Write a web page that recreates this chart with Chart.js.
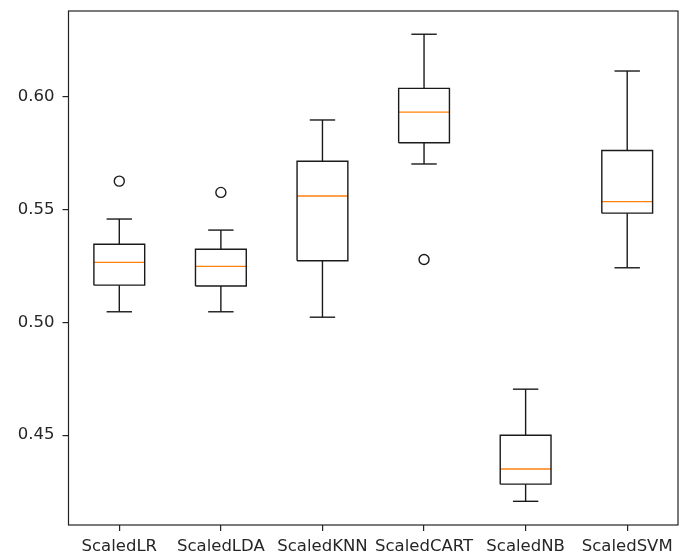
<!DOCTYPE html>
<html>
<head>
<meta charset="utf-8">
<script src="https://cdn.jsdelivr.net/npm/chart.js@4.4.1/dist/chart.umd.min.js"></script>
<style>
  html, body { margin: 0; padding: 0; background: #ffffff; }
  #c { display: block; }
</style>
</head>
<body>
<canvas id="c" width="680" height="557"></canvas>
<script>
// ---- data ----
const categories  = ['ScaledLR', 'ScaledLDA', 'ScaledKNN', 'ScaledCART', 'ScaledNB', 'ScaledSVM'];
const whiskerLow  = [0.5047, 0.5047, 0.5023, 0.5702, 0.4207, 0.5242];
const q1          = [0.5165, 0.5161, 0.5273, 0.5796, 0.4283, 0.5484];
const median      = [0.5266, 0.5248, 0.5560, 0.5932, 0.4350, 0.5535];
const q3          = [0.5346, 0.5324, 0.5714, 0.6037, 0.4500, 0.5762];
const whiskerHigh = [0.5458, 0.5409, 0.5897, 0.6277, 0.4704, 0.6114];
const outliers    = [[0.5626], [0.5576], [], [0.5279], [], []];
const yTicks      = [0.45, 0.50, 0.55, 0.60];
const yMin = 0.4102, yMax = 0.6380;

// ---- styling ----
const HALF_BOX = 0.25;   // matplotlib default box width 0.5
const HALF_CAP = 0.125;  // caps are half the box width
const LW = 1.4;
const INK = '#1a1a1a';
const MEDIAN_COLOR = '#ff7f0e';
const TEXT = '#262626';
const FONT = { family: 'DejaVu Sans', size: 16.5 };

function seg(points, color, extra) {
  return Object.assign({
    type: 'line',
    data: points,
    borderColor: color,
    backgroundColor: 'transparent',
    borderWidth: LW,
    pointRadius: 0,
    pointHoverRadius: 0,
    fill: false,
    tension: 0,
    clip: false,
    borderCapStyle: 'butt',
    borderJoinStyle: 'miter'
  }, extra || {});
}

const datasets = [];
categories.forEach((name, i) => {
  const x = i + 1;
  // whiskers
  datasets.push(seg([{x: x, y: q3[i]}, {x: x, y: whiskerHigh[i]}], INK));
  datasets.push(seg([{x: x, y: q1[i]}, {x: x, y: whiskerLow[i]}], INK));
  // caps
  datasets.push(seg([{x: x - HALF_CAP, y: whiskerHigh[i]}, {x: x + HALF_CAP, y: whiskerHigh[i]}], INK));
  datasets.push(seg([{x: x - HALF_CAP, y: whiskerLow[i]}, {x: x + HALF_CAP, y: whiskerLow[i]}], INK));
  // box
  datasets.push(seg([
    {x: x - HALF_BOX, y: q1[i]}, {x: x + HALF_BOX, y: q1[i]},
    {x: x + HALF_BOX, y: q3[i]}, {x: x - HALF_BOX, y: q3[i]},
    {x: x - HALF_BOX, y: q1[i]}
  ], INK));
  // median
  datasets.push(seg([{x: x - HALF_BOX, y: median[i]}, {x: x + HALF_BOX, y: median[i]}], MEDIAN_COLOR));
});

// outliers (fliers)
const fliers = [];
outliers.forEach((arr, i) => arr.forEach(v => fliers.push({x: i + 1, y: v})));
datasets.push({
  type: 'scatter',
  data: fliers,
  showLine: false,
  pointStyle: 'circle',
  pointRadius: 5,
  pointHoverRadius: 5,
  pointBorderWidth: 1.4,
  pointBorderColor: INK,
  pointBackgroundColor: 'transparent',
  clip: false
});

const framePlugin = {
  id: 'frame',
  afterDraw(chart) {
    const a = chart.chartArea;
    const ctx = chart.ctx;
    ctx.save();
    ctx.strokeStyle = '#222';
    ctx.lineWidth = 1.2;
    ctx.strokeRect(a.left, a.top, a.right - a.left, a.bottom - a.top);
    ctx.restore();
  }
};

function noScalePadding(scale) {
  scale.paddingTop = 0;
  scale.paddingBottom = 0;
  scale.paddingLeft = 0;
  scale.paddingRight = 0;
}

new Chart(document.getElementById('c'), {
  type: 'scatter',
  data: { datasets: datasets },
  options: {
    responsive: false,
    animation: false,
    events: [],
    layout: { autoPadding: false, padding: { top: 11, right: 2, left: 0, bottom: 0 } },
    plugins: {
      legend: { display: false },
      tooltip: { enabled: false }
    },
    scales: {
      x: {
        type: 'linear',
        min: 0.5,
        max: 6.5,
        afterBuildTicks: (scale) => { scale.ticks = categories.map((c, i) => ({ value: i + 1 })); },
        afterFit: (scale) => { scale.height = 32; noScalePadding(scale); },
        ticks: {
          autoSkip: false,
          maxRotation: 0,
          padding: 6,
          color: TEXT,
          font: FONT,
          callback: (v) => categories[Math.round(v) - 1]
        },
        grid: { drawOnChartArea: false, drawTicks: true, tickLength: 6, color: '#222', lineWidth: 1.2 },
        border: { display: false }
      },
      y: {
        type: 'linear',
        min: yMin,
        max: yMax,
        afterBuildTicks: (scale) => { scale.ticks = yTicks.map(v => ({ value: v })); },
        afterFit: (scale) => { scale.width = 68.5; noScalePadding(scale); },
        ticks: {
          padding: 8,
          color: TEXT,
          font: FONT,
          callback: (v) => Number(v).toFixed(2)
        },
        grid: { drawOnChartArea: false, drawTicks: true, tickLength: 6, color: '#222', lineWidth: 1.2 },
        border: { display: false }
      }
    }
  },
  plugins: [framePlugin]
});
</script>
</body>
</html>
